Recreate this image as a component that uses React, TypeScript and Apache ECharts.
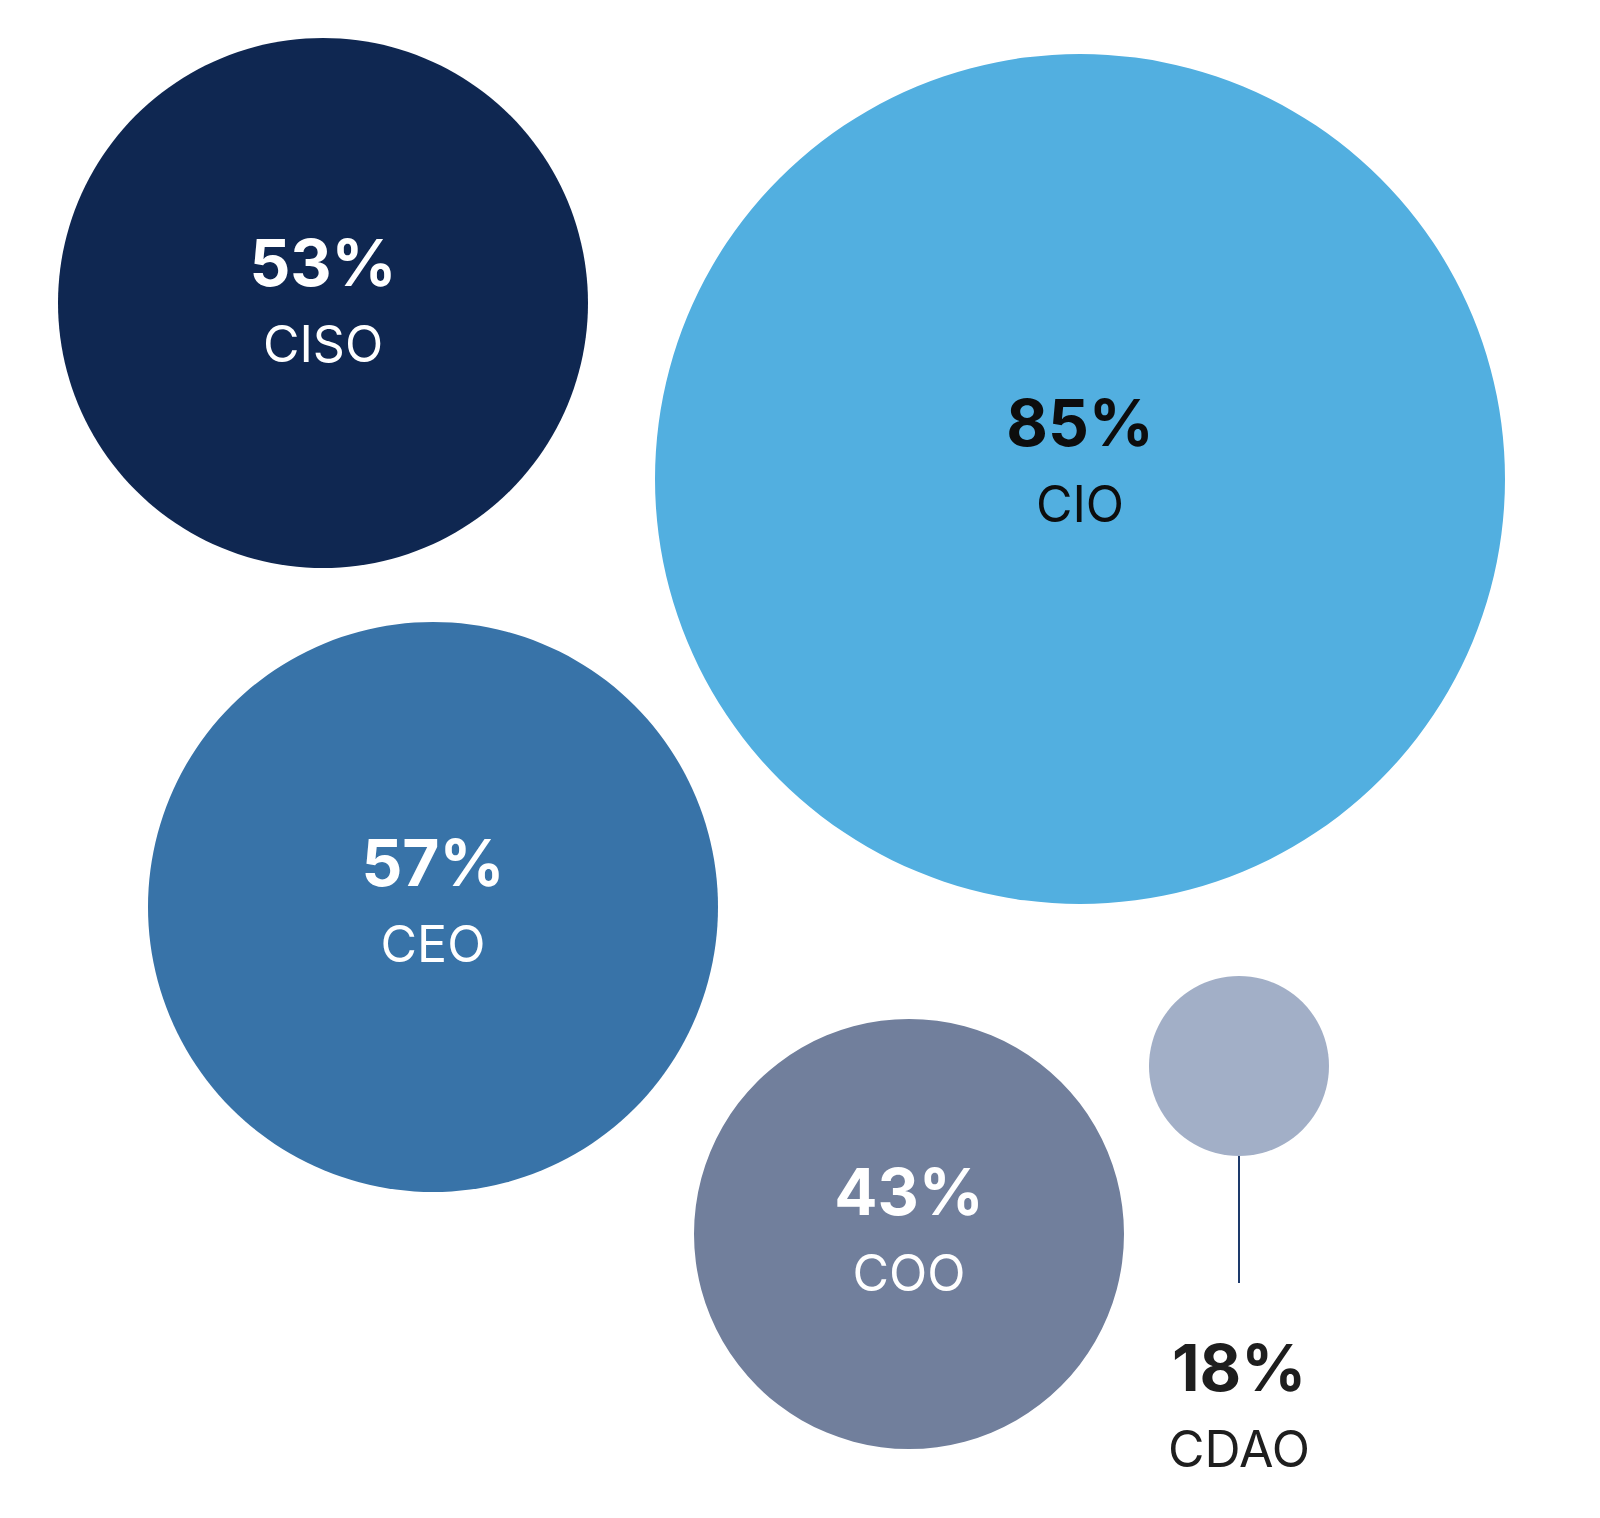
import React, { useEffect, useRef } from "react";
import * as echarts from "echarts";

const roles = ["CISO", "CIO", "CEO", "COO", "CDAO"];
const shares = [53, 85, 57, 43, 18];
// layout (pixel positions of bubble centres)
const bubbleX = [323, 1080, 433, 909, 1239];
const bubbleY = [303, 479, 907, 1234, 1066];
const colors = ["#0f2751", "#52afe0", "#3873a8", "#717f9c", "#a2afc7"];
const textColors = ["#ffffff", "#0d0d0d", "#ffffff", "#ffffff", "#1e1e1e"];
const labelOffsets = [[0, 0], [0, -16], [0, -4], [0, -2], [0, 342]];
const stemEndY = 1283;

const W = 1600;
const H = 1518;
const FONT = "Inter, 'Liberation Sans', Arial, sans-serif";

export default function App() {
  const ref = useRef<HTMLDivElement>(null);
  useEffect(() => {
    document.body.style.margin = "0";
    if (!ref.current) return;
    const chart = echarts.init(ref.current, null, { renderer: "svg" });
    const data = roles.map((r, i) => ({
      name: r,
      value: [bubbleX[i], bubbleY[i], shares[i]],
      symbolSize: shares[i] * 10,
      itemStyle: { color: colors[i], opacity: 1 },
      label: {
        show: true,
        position: "inside",
        offset: labelOffsets[i],
        formatter: `{v|${shares[i]}%}\n{n|${r}}`,
        rich: {
          v: {
            fontSize: 64,
            fontWeight: "bold",
            fontFamily: FONT,
            color: textColors[i],
            lineHeight: 82,
            align: "center",
          },
          n: {
            fontSize: 50,
            fontFamily: FONT,
            color: textColors[i],
            lineHeight: 82,
            align: "center",
          },
        },
      },
    }));
    const last = roles.length - 1;
    const stemStart = bubbleY[last] + shares[last] * 5;
    chart.setOption({
      animation: false,
      backgroundColor: "#ffffff",
      grid: { left: 0, right: 0, top: 0, bottom: 0 },
      xAxis: { type: "value", min: 0, max: W, show: false },
      yAxis: { type: "value", min: 0, max: H, inverse: true, show: false },
      series: [
        {
          type: "line",
          data: [
            [bubbleX[last], stemStart],
            [bubbleX[last], stemEndY],
          ],
          symbol: "none",
          lineStyle: { color: "#1d3a6b", width: 2 },
          silent: true,
          z: 1,
        },
        {
          type: "scatter",
          symbol: "circle",
          data,
          z: 2,
          emphasis: { disabled: true },
        },
      ],
    });
    return () => chart.dispose();
  }, []);
  return <div ref={ref} style={{ width: W, height: H }} />;
}
